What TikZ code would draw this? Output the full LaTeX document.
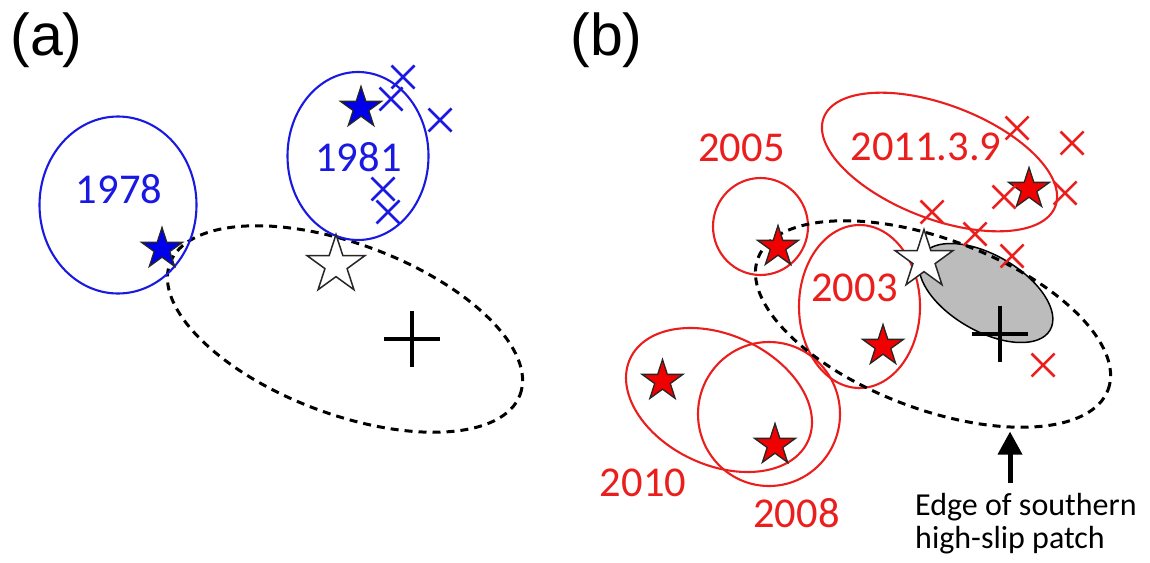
\documentclass[tikz,border=0pt]{standalone}
\usepackage{fontspec}
\setmainfont{Carlito}
\newfontfamily\labfont{Liberation Sans}
\usetikzlibrary{shapes.geometric,shapes.misc,arrows.meta}
\definecolor{eqblue}{RGB}{25,25,225}
\definecolor{eqred}{RGB}{235,30,30}
\definecolor{starblue}{RGB}{0,0,235}
\definecolor{starred}{RGB}{240,0,0}
\definecolor{patchgray}{RGB}{188,188,188}
\tikzset{
  ell/.style={line width=2.1pt},
  blueell/.style={ell, draw=eqblue},
  redell/.style={ell, draw=eqred},
  edgeell/.style={draw=black, line width=3pt, dash pattern=on 8pt off 6pt},
  epistar/.style={star, star points=5, star point ratio=2.618, minimum size=43pt,
    inner sep=0pt, outer sep=0pt, draw=black!85, line width=1.3pt},
  bluestar/.style={epistar, fill=starblue},
  redstar/.style={epistar, fill=starred},
  bigstar/.style={epistar, minimum size=61pt, fill=white, line width=1.5pt},
  yearlab/.style={font=\fontsize{42.5}{42.5}\selectfont, inner sep=0pt},
  bluelab/.style={yearlab, text=eqblue},
  redlab/.style={yearlab, text=eqred},
  panellab/.style={font=\labfont\fontsize{59}{59}\selectfont, anchor=base, inner sep=0pt},
  xmark/.style={cross out, draw, line width=2.5pt, minimum size=23pt, inner sep=0pt, outer sep=0pt},
  bluex/.style={xmark, draw=eqblue},
  redx/.style={xmark, draw=eqred},
  plusmark/.style={line width=4pt},
  notelab/.style={anchor=base west, font=\fontsize{32}{33}\selectfont, inner sep=0pt},
}
\begin{document}
\begin{tikzpicture}[x=1pt,y=-1pt]
\fill[white] (0,0) rectangle (1150,562);
\useasboundingbox (0,0) rectangle (1150,562);

% ---------------- panel (a) ----------------
\node[panellab] (pa) at (46.5,55.7) {(a)};
\draw[edgeell, rotate around={-20.6:(345,329)}] (345,329) ellipse [x radius=187pt, y radius=85pt];
\draw[blueell] (118,205) ellipse [x radius=78.5pt, y radius=88.5pt];
\draw[blueell] (358,156) ellipse [x radius=70.5pt, y radius=84pt];
\node[bluelab] (y1978) at (119,189) {1978};
\node[bluelab] (y1981) at (358.5,157) {1981};
\draw[plusmark] (412,311) -- (412,367) (384,339) -- (440,339);
\node[bluestar] (sa1978) at (162,249) {};
\node[bluestar] (sa1981) at (361,108) {};
\node[bigstar] (sa2011) at (336,265) {};
\node[bluex] (xa1) at (403,77) {};
\node[bluex] (xa2) at (391,99) {};
\node[bluex] (xa3) at (440,120) {};
\node[bluex] (xa4) at (383,189) {};
\node[bluex] (xa5) at (388,212) {};

% ---------------- panel (b) ----------------
\node[panellab] (pb) at (606.5,55.7) {(b)};
\draw[redell] (760.5,226.5) ellipse [x radius=47.5pt, y radius=48.5pt];
\draw[redell, rotate around={-21:(939.5,162)}] (939.5,162) ellipse [x radius=124pt, y radius=57pt];
\draw[redell] (859.5,306.5) ellipse [x radius=60.5pt, y radius=81.5pt];
\draw[redell, rotate around={-25:(719,400)}] (719,400) ellipse [x radius=98pt, y radius=65pt];
\draw[redell] (769,414) ellipse [x radius=71pt, y radius=72pt];
\draw[fill=patchgray, draw=black, line width=1.5pt, rotate around={-30:(986,293)}] (986,293) ellipse [x radius=74pt, y radius=38pt];
\draw[edgeell, rotate around={-20.6:(933,324)}] (933,324) ellipse [x radius=187pt, y radius=85pt];
\draw[plusmark] (1000,306) -- (1000,362) (972,334) -- (1028,334);
\node[redlab] (y2005) at (741.5,147.5) {2005};
\node[redlab] (y2011) at (926,146.5) {2011.3.9};
\node[redlab] (y2003) at (854.5,287.5) {2003};
\node[redlab] (y2010) at (643,482.5) {2010};
\node[redlab] (y2008) at (796.5,513) {2008};
\node[redstar] (sb2005) at (778,247) {};
\node[redstar] (sb2011) at (1029,189) {};
\node[redstar] (sb2003) at (883,346) {};
\node[redstar] (sb2010) at (662.5,381) {};
\node[redstar] (sb2008) at (775,445) {};
\node[bigstar] (sbmain) at (924,260) {};
\node[redx] (xb1) at (1017,128) {};
\node[redx] (xb2) at (1072,143) {};
\node[redx] (xb3) at (1004,197) {};
\node[redx] (xb4) at (1065,193) {};
\node[redx] (xb5) at (932,212) {};
\node[redx] (xb6) at (975,234) {};
\node[redx] (xb7) at (1012,256) {};
\node[redx] (xb8) at (1043,365) {};

% arrow and note
\coordinate (arrtail) at (1010,483);
\coordinate (arrtip) at (1010,431.5);
\draw[line width=5pt, -{Triangle[length=23pt,width=23.5pt]}] (arrtail) -- (arrtip);
\node[notelab] (note1) at (915,515) {Edge of southern};
\node[notelab] (note2) at (915,548) {high-slip patch};
\end{tikzpicture}
\end{document}
